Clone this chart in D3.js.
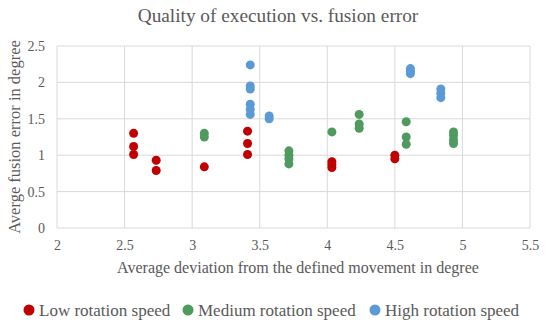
<!DOCTYPE html>
<html>
<head>
<meta charset="utf-8">
<script src="https://cdn.jsdelivr.net/npm/d3@7"></script>
<style>
  body { margin: 0; background: #fff; }
  text { font-family: "Liberation Serif", "Times New Roman", serif; fill: #595959; }
</style>
</head>
<body>
<svg id="chart" width="550" height="326"></svg>
<script>
// data: [deviation, fusion error]
var lowSpeed = [
  [2.567, 1.30], [2.567, 1.12], [2.567, 1.01],
  [2.734, 0.93], [2.734, 0.79],
  [3.09, 0.84],
  [3.41, 1.33], [3.41, 1.16], [3.41, 1.01],
  [4.034, 0.91], [4.034, 0.87], [4.034, 0.83],
  [4.50, 1.00], [4.50, 0.95]
];
var mediumSpeed = [
  [3.09, 1.30], [3.09, 1.25],
  [3.716, 1.06], [3.716, 1.00], [3.716, 0.95], [3.716, 0.88],
  [4.034, 1.32],
  [4.236, 1.56], [4.236, 1.43], [4.236, 1.37],
  [4.584, 1.46], [4.584, 1.25], [4.584, 1.15],
  [4.934, 1.32], [4.934, 1.27], [4.934, 1.21], [4.934, 1.16]
];
var highSpeed = [
  [3.43, 2.24], [3.43, 1.95], [3.43, 1.91], [3.43, 1.70], [3.43, 1.63], [3.43, 1.56],
  [3.57, 1.54], [3.57, 1.50],
  [4.615, 2.19], [4.615, 2.15], [4.615, 2.12],
  [4.84, 1.91], [4.84, 1.85], [4.84, 1.79]
];
var seriesNames = ['Low rotation speed', 'Medium rotation speed', 'High rotation speed'];
var seriesColors = ['#c00000', '#4f9a5f', '#5b9bd5'];
var xTicks = [2, 2.5, 3, 3.5, 4, 4.5, 5, 5.5];
var yTicks = [0, 0.5, 1, 1.5, 2, 2.5];

var svg = d3.select('#chart');
var margin = {left: 57, right: 20, top: 46, bottom: 98};
var w = 550 - margin.left - margin.right;
var h = 326 - margin.top - margin.bottom;

var x = d3.scaleLinear().domain([2, 5.5]).range([0, w]);
var y = d3.scaleLinear().domain([0, 2.5]).range([h, 0]);

var g = svg.append('g').attr('transform', 'translate(' + margin.left + ',' + margin.top + ')');

// gridlines
g.selectAll('.vgrid').data(xTicks).join('line')
  .attr('x1', function(d) { return x(d); }).attr('x2', function(d) { return x(d); })
  .attr('y1', 0).attr('y2', h)
  .attr('stroke', '#d9d9d9').attr('stroke-width', 1);
g.selectAll('.hgrid').data(yTicks).join('line')
  .attr('x1', 0).attr('x2', w)
  .attr('y1', function(d) { return y(d); }).attr('y2', function(d) { return y(d); })
  .attr('stroke', '#d9d9d9').attr('stroke-width', 1);

// axes (labels only)
var xAxis = g.append('g').attr('transform', 'translate(0,' + h + ')')
  .call(d3.axisBottom(x).tickValues(xTicks).tickSize(0).tickPadding(12).tickFormat(d3.format('')));
var yAxis = g.append('g')
  .call(d3.axisLeft(y).tickValues(yTicks).tickSize(0).tickPadding(12).tickFormat(d3.format('')));
[xAxis, yAxis].forEach(function(a) {
  a.select('.domain').remove();
  a.selectAll('text').style('font-family', '"Liberation Serif", serif').style('font-size', '14px').attr('fill', '#595959');
});

// points
var allSeries = [lowSpeed, mediumSpeed, highSpeed];
allSeries.forEach(function(s, i) {
  g.append('g').selectAll('circle').data(s).join('circle')
    .attr('cx', function(d) { return x(d[0]); })
    .attr('cy', function(d) { return y(d[1]); })
    .attr('r', 4.5)
    .attr('fill', seriesColors[i]);
});

// titles
svg.append('text').attr('x', 278).attr('y', 22).attr('text-anchor', 'middle')
  .style('font-size', '19.3px').text('Quality of execution vs. fusion error');
svg.append('text').attr('x', 298).attr('y', 273).attr('text-anchor', 'middle')
  .style('font-size', '16px').text('Average deviation from the defined movement in degree');
svg.append('text').attr('transform', 'translate(20,' + (margin.top + h / 2) + ') rotate(-90)')
  .attr('text-anchor', 'middle').style('font-size', '16.5px').text('Averge fusion error in degree');

// legend
var legendX = [29, 188, 375];
var legend = svg.append('g');
seriesNames.forEach(function(n, i) {
  legend.append('circle').attr('cx', legendX[i]).attr('cy', 310).attr('r', 5.5).attr('fill', seriesColors[i]);
  legend.append('text').attr('x', legendX[i] + 10).attr('y', 315.5).style('font-size', '17px').text(n);
});
</script>
</body>
</html>
